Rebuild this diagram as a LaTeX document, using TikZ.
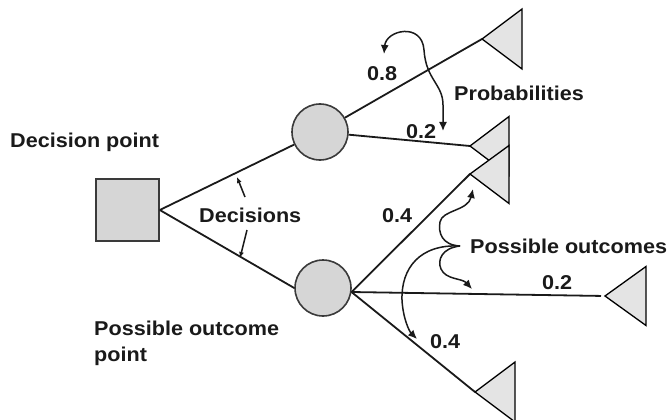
\documentclass[tikz,border=0pt]{standalone}
\usepackage{fontspec}
\newfontfamily\lbl[FakeStretch=1.08]{Liberation Sans}
\usetikzlibrary{arrows.meta}
\definecolor{nodefill}{HTML}{D6D6D6}
\definecolor{trifill}{HTML}{E4E4E4}
\definecolor{edge}{HTML}{3A3A3A}
\definecolor{ink}{HTML}{1A1A1A}
\tikzset{
  lbl/.style={font=\lbl\bfseries\fontsize{20}{24}\selectfont, text=ink, inner sep=0pt, anchor=base west},
  branch/.style={draw=ink, line width=1.8pt},
  circnode/.style={circle, draw=edge, line width=1.6pt, fill=nodefill, minimum size=56pt, inner sep=0pt},
  sqnode/.style={rectangle, draw=edge, line width=1.6pt, fill=nodefill, minimum width=63pt, minimum height=62pt, inner sep=0pt},
  tri/.style={draw=black, line width=1.3pt, fill=trifill, line join=miter},
  pointer/.style={draw=ink, line width=1.5pt, -{Latex[length=9pt,width=8pt]}},
  smallpointer/.style={draw=ink, line width=1.5pt, -{Latex[length=6pt,width=5pt]}},
  dpointer/.style={draw=ink, line width=1.5pt, {Latex[length=9pt,width=8pt]}-{Latex[length=9pt,width=8pt]}}
}
\begin{document}
\begin{tikzpicture}[x=1pt,y=-1pt]
\useasboundingbox (0,0) rectangle (670,420);
\fill[white] (0,0) rectangle (670,420);

% nodes
\node[sqnode] (sq) at (127.5,210) {};
\node[circnode] (c1) at (320,132) {};
\node[circnode] (c2) at (323,288) {};

% triangle apexes
\coordinate (t1) at (482,39);
\coordinate (t2) at (470,146);
\coordinate (t3) at (470,174);
\coordinate (t4) at (605,296);
\coordinate (t5) at (475,392);

% branches
\draw[branch] (sq.east) -- (c1);
\draw[branch] (sq.east) -- (c2.west);
\draw[branch] (c1) -- (t1);
\draw[branch] (c1) -- (t2);
\draw[branch] (c2.-8) -- (t3);
\draw[branch, shorten >=4pt] (c2.-8) -- (t4);
\draw[branch] (c2.-8) -- (t5);

% triangles
\draw[tri] (t1) -- ++(40,-30) -- ++(0,60) -- cycle;
\draw[tri] (t2) -- ++(39,-29.5) -- ++(0,59) -- cycle;
\draw[tri] (t3) -- ++(39,-28.5) -- ++(0,58) -- cycle;
\draw[tri] (t4) -- ++(41,-29.5) -- ++(0,59) -- cycle;
\draw[tri] (t5) -- ++(40,-30) -- ++(0,60) -- cycle;

% labels
\node[lbl] (ldp) at (10,147) {Decision point};
\node[lbl] (ldec) at (199,222) {Decisions};
\node[lbl] (lpo1) at (94,335) {Possible outcome};
\node[lbl] (lpo2) at (94,361) {point};
\node[lbl] (lprob) at (454,100) {Probabilities};
\node[lbl] (lpos) at (470,253) {Possible outcomes};
\node[lbl] (p08) at (367,81) {0.8};
\node[lbl] (p02a) at (406,139) {0.2};
\node[lbl] (p04a) at (382,222) {0.4};
\node[lbl] (p02b) at (542,289) {0.2};
\node[lbl] (p04b) at (430,348) {0.4};

% decision arrows
\coordinate (da1) at (245,197);
\coordinate (da1e) at (237,177);
\coordinate (da2) at (247,230);
\coordinate (da2e) at (240,258);
\draw[smallpointer] (da1) -- (da1e);
\draw[smallpointer] (da2) -- (da2e);

% probabilities arrow
\coordinate (pa) at (384,54);
\coordinate (pb) at (443,131);
\draw[dpointer] (pa) .. controls (386,30) and (422,22) .. (424,50)
  .. controls (426,80) and (443,84) .. (443,105) -- (pb);

% possible outcomes brace arrows
\coordinate (br) at (460,246);
\coordinate (oa) at (473,189);
\coordinate (ob) at (472,289);
\coordinate (oc) at (417,339);
\draw[pointer] (br) .. controls (442,245) and (438,233) .. (440,222)
  .. controls (442,210) and (468,211) .. (oa);
\draw[pointer] (br) .. controls (442,248) and (437,260) .. (441,269)
  .. controls (446,280) and (462,278) .. (ob);
\draw[pointer] (br) .. controls (420,244) and (401,268) .. (402,300)
  .. controls (403,318) and (409,331) .. (oc);
\end{tikzpicture}
\end{document}
